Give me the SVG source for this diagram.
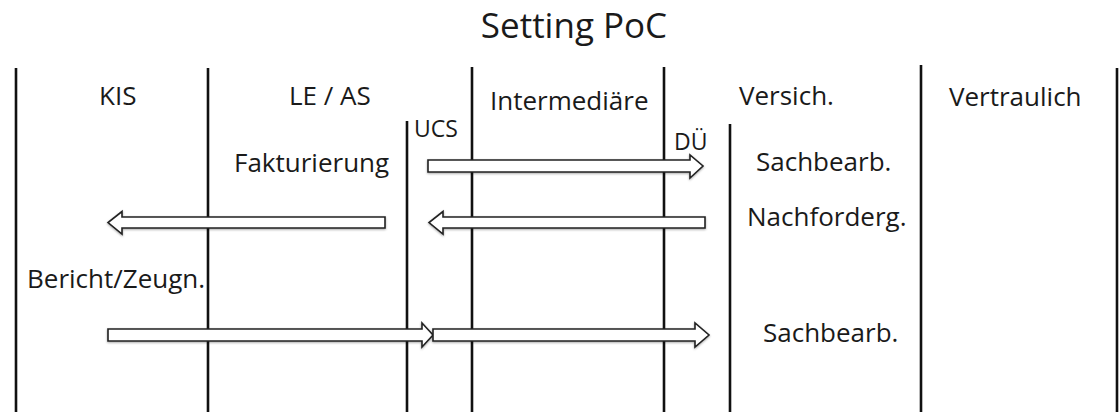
<svg xmlns="http://www.w3.org/2000/svg" width="1119" height="412" viewBox="0 0 1119 412">
<defs>
<style>
.lane{stroke:#111;stroke-width:2.6;fill:none}
.t{font-family:"Open Sans","Liberation Sans",sans-serif;font-size:26px;fill:#1a1a1a}
.s{font-size:23px}
.title{font-family:"Open Sans","Liberation Sans",sans-serif;font-size:35px;fill:#1a1a1a}
.arrow{fill:#fff;stroke:#222;stroke-width:1.6;stroke-linejoin:miter;filter:url(#sh)}
</style>
<filter id="sh" x="-5%" y="-50%" width="110%" height="200%">
<feDropShadow dx="0" dy="1" stdDeviation="1" flood-color="#000" flood-opacity="0.35"/>
</filter>
</defs>
<rect width="1119" height="412" fill="#fff"/>
<text class="title" x="574" y="38" text-anchor="middle">Setting PoC</text>
<g id="lane-kis"><line class="lane" x1="16" y1="68" x2="16" y2="412"/><text class="t" x="99" y="105">KIS</text></g>
<g id="lane-le-as"><line class="lane" x1="208" y1="68" x2="208" y2="412"/><text class="t" x="289" y="105">LE / AS</text></g>
<g id="lane-ucs"><line class="lane" x1="407" y1="121" x2="407" y2="412"/><text class="t s" x="414" y="137">UCS</text></g>
<g id="lane-intermediaere"><line class="lane" x1="472" y1="67" x2="472" y2="412"/><text class="t" x="490" y="110">Intermediäre</text></g>
<g id="lane-versich"><line class="lane" x1="664" y1="67" x2="664" y2="412"/><text class="t" x="739" y="105">Versich.</text></g>
<g id="lane-due"><line class="lane" x1="730" y1="124" x2="730" y2="412"/><text class="t s" x="674" y="150">DÜ</text></g>
<g id="lane-vertraulich"><line class="lane" x1="921" y1="65" x2="921" y2="412"/><text class="t" x="949" y="106">Vertraulich</text></g>
<g id="lane-right"><line class="lane" x1="1117" y1="68" x2="1117" y2="412"/></g>
<g id="labels">
<text class="t" x="234" y="172">Fakturierung</text>
<text class="t" x="756" y="171">Sachbearb.</text>
<text class="t" x="747" y="226">Nachforderg.</text>
<text class="t" x="27" y="288">Bericht/Zeugn.</text>
<text class="t" x="763" y="342">Sachbearb.</text>
</g>
<g id="connectors">
<path class="arrow" d="M428 160 H690 V155 L703 166 L690 178 V172 H428 Z"/>
<path class="arrow" d="M705 217 H443 V211.5 L429 222.5 L443 234 V228 H705 Z"/>
<path class="arrow" d="M385 217 H122 V211.5 L108 222.5 L122 234 V228 H385 Z"/>
<path class="arrow" d="M108 329 H422 V323 L433 335 L422 347 V341 H108 Z"/>
<path class="arrow" d="M433 329 H695 V323 L709 335 L695 347 V341 H433 Z"/>
</g>
</svg>
